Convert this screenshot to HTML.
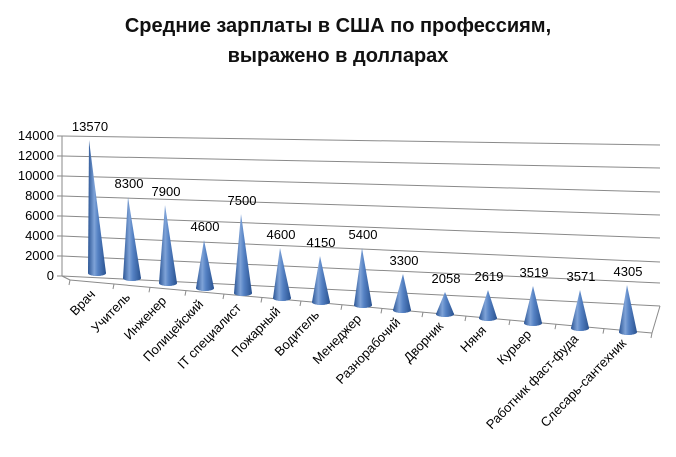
<!DOCTYPE html>
<html><head><meta charset="utf-8"><style>
body{margin:0;background:#fff;}
svg{display:block;font-family:"Liberation Sans","DejaVu Sans",sans-serif;}
</style></head><body>
<svg width="676" height="457" viewBox="0 0 676 457" xmlns="http://www.w3.org/2000/svg">
<defs>
<linearGradient id="g" x1="0" x2="1" y1="0" y2="0">
<stop offset="0" stop-color="#2c5695"/>
<stop offset="0.35" stop-color="#7fa3d8"/>
<stop offset="0.55" stop-color="#5582c4"/>
<stop offset="1" stop-color="#2a5290"/>
</linearGradient>
<linearGradient id="b" x1="0" x2="1" y1="0" y2="0">
<stop offset="0" stop-color="#2c5695"/>
<stop offset="0.5" stop-color="#6b95d0"/>
<stop offset="1" stop-color="#2a5290"/>
</linearGradient>
</defs>
<text x="338" y="32" font-size="20" font-weight="bold" text-anchor="middle" fill="#111">Средние зарплаты в США по профессиям,</text>
<text x="338" y="62" font-size="20" font-weight="bold" text-anchor="middle" fill="#111">выражено в долларах</text>
<g stroke="#8a8a8a" stroke-width="1" fill="none">
<line x1="62" y1="136" x2="660" y2="145"/>
<line x1="62" y1="156" x2="660" y2="168"/>
<line x1="62" y1="176" x2="660" y2="192"/>
<line x1="62" y1="196" x2="660" y2="215"/>
<line x1="62" y1="216" x2="660" y2="238"/>
<line x1="62" y1="236" x2="660" y2="262"/>
<line x1="62" y1="256" x2="660" y2="283"/>
<line x1="62" y1="276" x2="660" y2="306"/>
<line x1="62" y1="136" x2="62" y2="276"/>
<line x1="62" y1="276" x2="70" y2="280"/>
<line x1="70" y1="280" x2="652" y2="333"/>
<line x1="652" y1="333" x2="660" y2="306"/>
<line x1="57" y1="136" x2="62" y2="136"/><line x1="57" y1="156" x2="62" y2="156"/>
<line x1="57" y1="176" x2="62" y2="176"/><line x1="57" y1="196" x2="62" y2="196"/>
<line x1="57" y1="216" x2="62" y2="216"/><line x1="57" y1="236" x2="62" y2="236"/>
<line x1="57" y1="256" x2="62" y2="256"/><line x1="57" y1="276" x2="62" y2="276"/>
<line x1="70" y1="280" x2="69" y2="285"/><line x1="114" y1="284" x2="113" y2="289"/>
<line x1="150" y1="287.3" x2="149" y2="292.3"/><line x1="186" y1="290.6" x2="185" y2="295.6"/>
<line x1="224" y1="294" x2="223" y2="299"/><line x1="262" y1="297.5" x2="261" y2="302.5"/>
<line x1="301" y1="301" x2="300" y2="306"/><line x1="342" y1="304.8" x2="341" y2="309.8"/>
<line x1="382" y1="308.4" x2="381" y2="313.4"/><line x1="423" y1="312.1" x2="422" y2="317.1"/>
<line x1="466" y1="316" x2="465" y2="321"/><line x1="510" y1="320" x2="509" y2="325"/>
<line x1="556" y1="324.2" x2="555" y2="329.2"/><line x1="604" y1="328.6" x2="603" y2="333.6"/>
<line x1="652" y1="333" x2="651" y2="338"/>
</g>
<g font-size="13" text-anchor="end" fill="#000">
<text x="54" y="140">14000</text><text x="54" y="160">12000</text><text x="54" y="180">10000</text>
<text x="54" y="200">8000</text><text x="54" y="220">6000</text><text x="54" y="240">4000</text>
<text x="54" y="260">2000</text><text x="54" y="280">0</text>
</g>
<g>
<ellipse cx="97" cy="273" rx="9" ry="3" fill="url(#b)"/><path d="M88 273 L89 140 L106 273 A9 3 0 0 1 88 273 Z" fill="url(#g)"/>
<ellipse cx="132" cy="278" rx="9" ry="3" fill="url(#b)"/><path d="M123 278 L128 197 L141 278 A9 3 0 0 1 123 278 Z" fill="url(#g)"/>
<ellipse cx="168" cy="283" rx="9" ry="3" fill="url(#b)"/><path d="M159 283 L165 205 L177 283 A9 3 0 0 1 159 283 Z" fill="url(#g)"/>
<ellipse cx="205" cy="288" rx="9" ry="3" fill="url(#b)"/><path d="M196 288 L204 240 L214 288 A9 3 0 0 1 196 288 Z" fill="url(#g)"/>
<ellipse cx="243" cy="293" rx="9" ry="3" fill="url(#b)"/><path d="M234 293 L241 214 L252 293 A9 3 0 0 1 234 293 Z" fill="url(#g)"/>
<ellipse cx="282" cy="298" rx="9" ry="3" fill="url(#b)"/><path d="M273 298 L280 248 L291 298 A9 3 0 0 1 273 298 Z" fill="url(#g)"/>
<ellipse cx="321" cy="302" rx="9" ry="3" fill="url(#b)"/><path d="M312 302 L320 256 L330 302 A9 3 0 0 1 312 302 Z" fill="url(#g)"/>
<ellipse cx="363" cy="305" rx="9" ry="3" fill="url(#b)"/><path d="M354 305 L362 248 L372 305 A9 3 0 0 1 354 305 Z" fill="url(#g)"/>
<ellipse cx="402" cy="310" rx="9" ry="3" fill="url(#b)"/><path d="M393 310 L403 274 L411 310 A9 3 0 0 1 393 310 Z" fill="url(#g)"/>
<ellipse cx="445" cy="314" rx="9" ry="3" fill="url(#b)"/><path d="M436 314 L445 292 L454 314 A9 3 0 0 1 436 314 Z" fill="url(#g)"/>
<ellipse cx="488" cy="318" rx="9" ry="3" fill="url(#b)"/><path d="M479 318 L488 290 L497 318 A9 3 0 0 1 479 318 Z" fill="url(#g)"/>
<ellipse cx="533" cy="323" rx="9" ry="3" fill="url(#b)"/><path d="M524 323 L533 286 L542 323 A9 3 0 0 1 524 323 Z" fill="url(#g)"/>
<ellipse cx="580" cy="328" rx="9" ry="3" fill="url(#b)"/><path d="M571 328 L580 290 L589 328 A9 3 0 0 1 571 328 Z" fill="url(#g)"/>
<ellipse cx="628" cy="332" rx="9" ry="3" fill="url(#b)"/><path d="M619 332 L627 285 L637 332 A9 3 0 0 1 619 332 Z" fill="url(#g)"/>
</g>
<g font-size="13" text-anchor="middle" fill="#000">
<text x="90" y="131">13570</text><text x="129" y="188">8300</text><text x="166" y="196">7900</text>
<text x="205" y="231">4600</text><text x="242" y="205">7500</text><text x="281" y="239">4600</text>
<text x="321" y="247">4150</text><text x="363" y="239">5400</text><text x="404" y="265">3300</text>
<text x="446" y="283">2058</text><text x="489" y="281">2619</text><text x="534" y="277">3519</text>
<text x="581" y="281">3571</text><text x="628" y="276">4305</text>
</g>
<g font-size="13" text-anchor="end" fill="#000">
<text x="96" y="295" transform="rotate(-46 96 295)">Врач</text>
<text x="131" y="298" transform="rotate(-46 131 298)">Учитель</text>
<text x="167" y="301.5" transform="rotate(-46 167 301.5)">Инженер</text>
<text x="204" y="305" transform="rotate(-46 204 305)">Полицейский</text>
<text x="242" y="308.5" transform="rotate(-46 242 308.5)">IT специалист</text>
<text x="281" y="312" transform="rotate(-46 281 312)">Пожарный</text>
<text x="320" y="315.5" transform="rotate(-46 320 315.5)">Водитель</text>
<text x="362" y="319.5" transform="rotate(-46 362 319.5)">Менеджер</text>
<text x="401" y="323" transform="rotate(-46 401 323)">Разнорабочий</text>
<text x="444" y="327" transform="rotate(-46 444 327)">Дворник</text>
<text x="487" y="331" transform="rotate(-46 487 331)">Няня</text>
<text x="532" y="335" transform="rotate(-46 532 335)">Курьер</text>
<text x="579" y="339.5" transform="rotate(-46 579 339.5)">Работник фаст-фуда</text>
<text x="627" y="344" transform="rotate(-46 627 344)">Слесарь-сантехник</text>
</g>
</svg>
</body></html>
